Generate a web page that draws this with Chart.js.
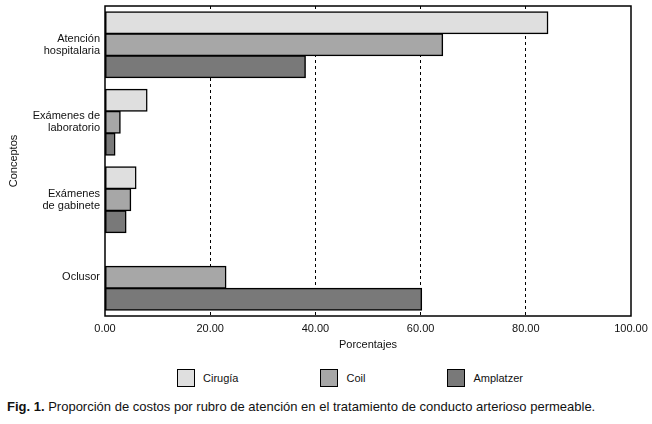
<!DOCTYPE html>
<html>
<head>
  <title>Proporción de costos</title>
  <style>
    body { margin: 0; background: #fff; font-family: "Liberation Sans", Arial, sans-serif; }
    #wrap { position: relative; width: 652px; height: 424px; }
    #chart { position: absolute; left: 0; top: 0; }
    #legend { position: absolute; left: 177px; top: 369px; display: flex; align-items: center; font-size: 11px; color: #111; }
    .item { display: flex; align-items: center; margin-right: 82px; }
    .box { width: 16px; height: 16px; border: 1px solid #000; margin-right: 8px; }
    #caption { position: absolute; left: 7px; top: 399px; font-size: 13px; color: #111; white-space: nowrap; }
  </style>
  <script src="https://cdn.jsdelivr.net/npm/chart.js"></script>
</head>
<body>
  <div id="wrap">
    <canvas id="chart" width="652" height="360"></canvas>
    <div id="legend"></div>
    <div id="caption"><b>Fig. 1.</b> Proporción de costos por rubro de atención en el tratamiento de conducto arterioso permeable.</div>
  </div>

  <script>
    const categories = [
      ['Atención', 'hospitalaria'],
      ['Exámenes de', 'laboratorio'],
      ['Exámenes', 'de gabinete'],
      'Oclusor'
    ];
    const seriesNames = ['Cirugía', 'Coil', 'Amplatzer'];
    const cirugia = [84.2, 8.0, 5.9, null];
    const coil = [64.2, 2.9, 4.9, 23.0];
    const amplatzer = [38.1, 1.9, 4.0, 60.2];
    const xTicks = [0, 20, 40, 60, 80, 100];

    const fills = ['#dfdfdf', '#a7a7a7', '#797979'];
    const seriesValues = [cirugia, coil, amplatzer];

    // caja del área de trazado
    const plotBox = {
      id: 'plotBox',
      afterDatasetsDraw(chart) {
        const a = chart.chartArea;
        const ctx = chart.ctx;
        ctx.save();
        ctx.strokeStyle = '#000';
        ctx.lineWidth = 1.5;
        ctx.strokeRect(a.left, a.top, a.right - a.left, a.bottom - a.top);
        ctx.restore();
      }
    };

    const ctx = document.getElementById('chart').getContext('2d');
    new Chart(ctx, {
      type: 'bar',
      data: {
        labels: categories,
        datasets: seriesNames.map((name, i) => ({
          label: name,
          data: seriesValues[i],
          backgroundColor: fills[i],
          borderColor: '#000',
          borderWidth: 1.5,
          borderSkipped: false,
          inflateAmount: 0.5,
          categoryPercentage: 0.85,
          barPercentage: 1.0
        }))
      },
      options: {
        indexAxis: 'y',
        responsive: false,
        animation: false,
        layout: { padding: { top: 6, right: 21, bottom: 0, left: 0 } },
        plugins: {
          legend: { display: false },
          tooltip: { enabled: false }
        },
        scales: {
          x: {
            min: 0,
            max: 100,
            afterBuildTicks: (scale) => { scale.ticks = xTicks.map(v => ({ value: v })); },
            afterFit: (scale) => { scale.height = 44; scale.paddingLeft = 0; scale.paddingRight = 0; },
            ticks: {
              padding: 6,
              color: '#111',
              font: { family: '"Liberation Sans", Arial', size: 11 },
              callback: (v) => Number(v).toFixed(2)
            },
            grid: {
              drawTicks: false,
              lineWidth: 1,
              color: (c) => (c.tick && (c.tick.value === 0 || c.tick.value === 100)) ? 'rgba(0,0,0,0)' : '#000'
            },
            border: { display: false, dash: [3, 3] },
            title: {
              display: true,
              text: 'Porcentajes',
              color: '#111',
              padding: { top: 0, bottom: 8 },
              font: { family: '"Liberation Sans", Arial', size: 11 }
            }
          },
          y: {
            afterFit: (scale) => { scale.width = 105; scale.paddingTop = 0; scale.paddingBottom = 0; },
            ticks: {
              padding: 5,
              color: '#111',
              font: { family: '"Liberation Sans", Arial', size: 11, lineHeight: 1.13 }
            },
            grid: { display: false, drawTicks: false },
            border: { display: false },
            title: {
              display: true,
              text: 'Conceptos',
              color: '#111',
              padding: { top: 7, bottom: 0 },
              font: { family: '"Liberation Sans", Arial', size: 11 }
            }
          }
        }
      },
      plugins: [plotBox]
    });

    // leyenda en HTML
    const legend = document.getElementById('legend');
    seriesNames.forEach((name, i) => {
      const item = document.createElement('div');
      item.className = 'item';
      const box = document.createElement('span');
      box.className = 'box';
      box.style.background = fills[i];
      const txt = document.createElement('span');
      txt.textContent = name;
      item.appendChild(box);
      item.appendChild(txt);
      legend.appendChild(item);
    });
  </script>
</body>
</html>
